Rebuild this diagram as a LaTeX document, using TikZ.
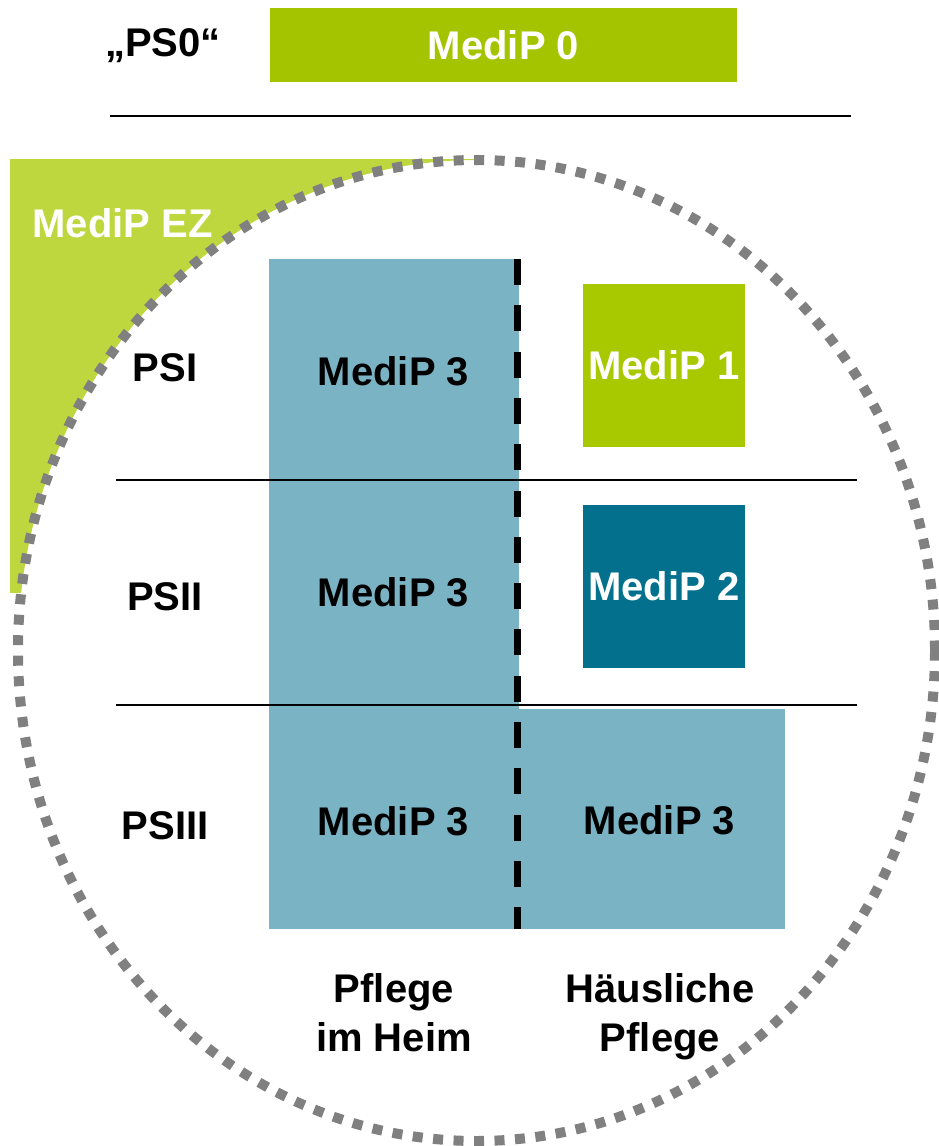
\documentclass[tikz,border=0pt]{standalone}
\usepackage{fontspec}
\setmainfont{Liberation Sans}
\definecolor{medigreen}{HTML}{A5C400}
\definecolor{medigreenb}{HTML}{A8C800}
\definecolor{ezgreen}{HTML}{BED73F}
\definecolor{lightblue}{HTML}{7AB3C4}
\definecolor{darkteal}{HTML}{03718E}
\definecolor{dotgray}{HTML}{808080}
\tikzset{
  lbl/.style={font=\fontsize{40}{49}\selectfont\bfseries, inner sep=0pt, text=black},
  wlbl/.style={lbl, text=white},
  box/.style={inner sep=0pt, outer sep=0pt, draw=none, font=\fontsize{40}{49}\selectfont\bfseries},
  rowrule/.style={line width=2pt, black},
  sepdash/.style={line width=6.7pt, black, dash pattern=on 26pt off 20.3pt},
  dotring/.style={line width=10pt, dotgray, dash pattern=on 10pt off 10.5pt},
}
\begin{document}
\begin{tikzpicture}[x=1pt,y=-1pt]
\useasboundingbox (0,0) rectangle (939,1146);
% top row
\node[lbl, anchor=base] (ps0) at (163,56) {„PS0“};
\node[box, fill=medigreen, text=white, minimum width=467pt, minimum height=74pt] (m0) at (503.5,45) {MediP 0};
\coordinate (topa) at (110,116);
\coordinate (topb) at (851,116);
\draw[line width=2.5pt, black] (topa) -- (topb);
% EZ corner
\begin{scope}
  \clip (10,159) rectangle (476,592);
  \fill[ezgreen, even odd rule] (0,100) rectangle (600,700)
     (476.5,650.5) ellipse [x radius=458.5pt, y radius=490.5pt];
\end{scope}
\node[wlbl, anchor=base] (ez) at (122.5,237) {MediP EZ};
% dotted ring
\coordinate (ringc) at (476.5,650.5);
\draw[dotring] (ringc) ellipse [x radius=458.5pt, y radius=490.5pt];
% blue areas
\node[box, fill=lightblue, minimum width=250pt, minimum height=670pt, anchor=north west] (heim) at (269,259) {};
\node[box, fill=lightblue, minimum width=267pt, minimum height=220pt, anchor=north west] (home3) at (518,709) {};
% row rules
\coordinate (r1a) at (116,480);
\coordinate (r1b) at (857,480);
\coordinate (r2a) at (116,705);
\coordinate (r2b) at (857,705);
\draw[rowrule] (r1a) -- (r1b);
\draw[rowrule] (r2a) -- (r2b);
% separator
\coordinate (dtop) at (517.3,259);
\coordinate (dbot) at (517.3,929);
\draw[sepdash] (dtop) -- (dbot);
% home boxes
\node[box, fill=medigreenb, text=white, minimum width=162pt, minimum height=163pt] (m1) at (664,365.5) {MediP 1};
\node[box, fill=darkteal, text=white, minimum width=162pt, minimum height=163pt] (m2) at (664,586.5) {MediP 2};
% row labels
\node[lbl, anchor=base] (psi) at (165,381) {PSI};
\node[lbl, anchor=base] (psii) at (165,610) {PSII};
\node[lbl, anchor=base] (psiii) at (165,839) {PSIII};
% MediP 3 labels
\node[lbl, anchor=base] (h1) at (393.5,385) {MediP 3};
\node[lbl, anchor=base] (h2) at (393.5,606) {MediP 3};
\node[lbl, anchor=base] (h3) at (393.5,835) {MediP 3};
\node[lbl, anchor=base] (h4) at (659.5,834) {MediP 3};
% column labels (base = last line)
\node[lbl, align=center, anchor=base] (colheim) at (394,1051) {Pflege\\im Heim};
\node[lbl, align=center, anchor=base] (colhome) at (660,1051) {Häusliche\\Pflege};
\end{tikzpicture}
\end{document}
